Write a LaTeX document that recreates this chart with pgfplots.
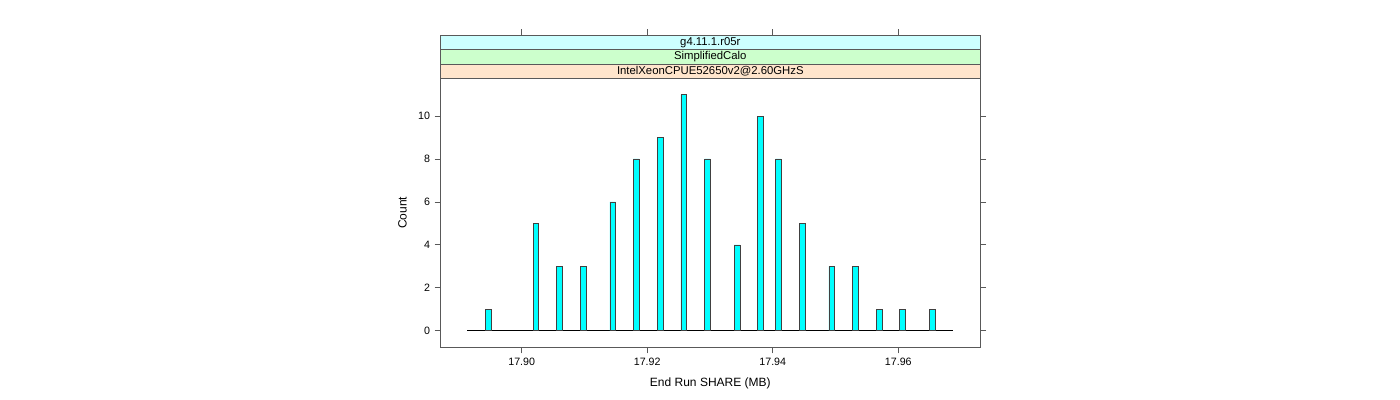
\documentclass[border=0pt]{standalone}
\usepackage{pgfplots}
\pgfplotsset{compat=1.18}
\usepackage{fontspec}
\setmainfont{Liberation Sans}
\definecolor{stripA}{RGB}{255,229,204}
\definecolor{stripB}{RGB}{204,255,204}
\definecolor{stripC}{RGB}{204,255,255}
\definecolor{barcyan}{RGB}{0,255,255}
\begin{document}
\begin{tikzpicture}
\useasboundingbox (0,0) rectangle (1050pt,300pt);
\begin{axis}[
  at={(330.5pt,39.5pt)}, anchor=south west,
  width=404.5pt, height=201.75pt, scale only axis,
  % x data given in MB; internally shifted to (x-17.9)*1000
  xmin=-12.91, xmax=73.02, ymin=-0.773, ymax=11.756,
  axis line style={black!65, line width=0.6pt},
  tick style={black!65, line width=0.6pt},
  major tick length=4.5pt,
  tick align=outside,
  xtick={0,20,40,60},
  xticklabels={17.90,17.92,17.94,17.96},
  ytick={0,2,4,6,8,10},
  yticklabels={0,2,4,6,8,10},
  xtick pos=left, ytick pos=both, yticklabel pos=left,
  tick label style={font=\fontsize{8}{9}\selectfont, text=black},
  /pgf/number format/assume math mode=true,
  xlabel={End Run SHARE (MB)}, ylabel={Count},
  label style={font=\fontsize{9}{10}\selectfont},
  xlabel style={at={(axis description cs:0.5,-0.134)}, anchor=center},
  ylabel style={at={(axis description cs:-0.0709,0.5)}, anchor=center},
  clip=false,
]
\addplot[black, line width=0.6pt, x filter/.expression={(x-17.9)*1000}] coordinates {(17.89133,0) (17.96867,0)};
\addplot[ybar, bar width=4.2pt, fill=barcyan, draw=black!75, line width=0.5pt, x filter/.expression={(x-17.9)*1000}] coordinates {
(17.89468,1) (17.90228,5) (17.90599,3) (17.90982,3) (17.91450,6) (17.91825,8)
(17.92209,9) (17.92582,11) (17.92958,8) (17.93431,4) (17.93802,10) (17.94089,8)
(17.94470,5) (17.94940,3) (17.95312,3) (17.95694,1) (17.96065,1) (17.96543,1)};
\draw[black!65, line width=0.6pt, fill=stripA] (rel axis cs:0,1) rectangle ([yshift=10.8pt]rel axis cs:1,1);
\draw[black!65, line width=0.6pt, fill=stripB] ([yshift=10.8pt]rel axis cs:0,1) rectangle ([yshift=21.6pt]rel axis cs:1,1);
\draw[black!65, line width=0.6pt, fill=stripC] ([yshift=21.6pt]rel axis cs:0,1) rectangle ([yshift=32.4pt]rel axis cs:1,1);
\node[font=\fontsize{8.5}{9}\selectfont, inner sep=0pt] at ([yshift=5.4pt]rel axis cs:0.5,1) {IntelXeonCPUE52650v2@2.60GHzS};
\node[font=\fontsize{8.5}{9}\selectfont, inner sep=0pt] at ([yshift=16.2pt]rel axis cs:0.5,1) {SimplifiedCalo};
\node[font=\fontsize{8.5}{9}\selectfont, inner sep=0pt] at ([yshift=27pt]rel axis cs:0.5,1) {g4.11.1.r05r};
\draw[black!65, line width=0.6pt] ([yshift=32.4pt]axis cs:0,11.756) -- ([yshift=36.9pt]axis cs:0,11.756);
\draw[black!65, line width=0.6pt] ([yshift=32.4pt]axis cs:20,11.756) -- ([yshift=36.9pt]axis cs:20,11.756);
\draw[black!65, line width=0.6pt] ([yshift=32.4pt]axis cs:40,11.756) -- ([yshift=36.9pt]axis cs:40,11.756);
\draw[black!65, line width=0.6pt] ([yshift=32.4pt]axis cs:60,11.756) -- ([yshift=36.9pt]axis cs:60,11.756);
\end{axis}
\end{tikzpicture}
\end{document}
